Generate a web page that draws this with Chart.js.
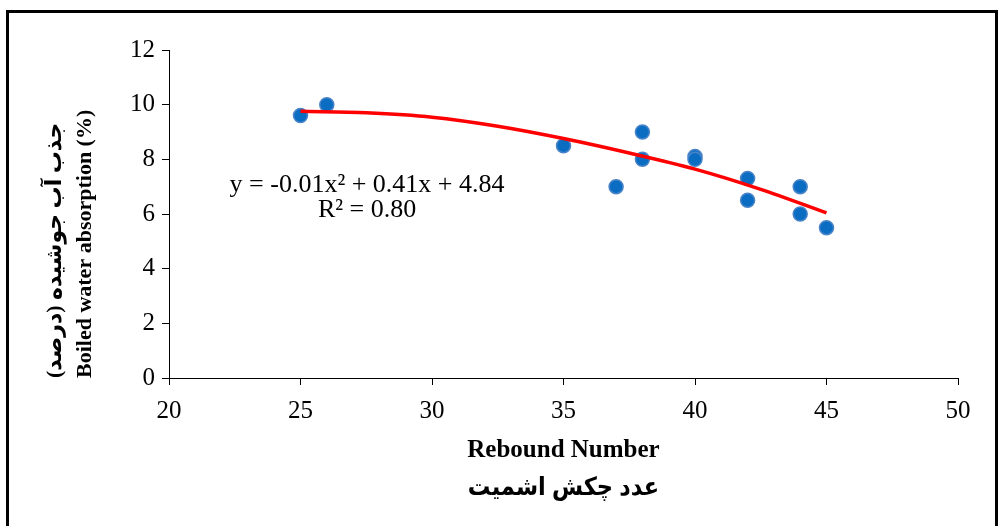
<!DOCTYPE html>
<html>
<head>
<meta charset="utf-8">
<script src="https://cdn.jsdelivr.net/npm/chart.js@4.4.1/dist/chart.umd.min.js"></script>
<style>
  body { margin: 0; background: #fff; }
  #wrap { width: 1000px; height: 526px; }
</style>
</head>
<body>
<div id="wrap"><canvas id="myChart" width="1000" height="526"></canvas></div>
<script>
// Measured points (rebound number vs boiled water absorption %)
const reboundNumber = [25, 26, 35, 37, 38, 38, 40, 40, 42, 42, 44, 44, 45];
const absorption = [9.6, 10.0, 8.5, 7.0, 9.0, 8.0, 8.1, 8.0, 7.3, 6.5, 7.0, 6.0, 5.5];

// Polynomial trendline
const trendX = [25, 27.5, 30, 32.5, 35, 37.5, 40, 42.5, 45];
const trendY = [9.76, 9.7, 9.54, 9.21, 8.76, 8.23, 7.64, 6.9, 6.04];

// Axis ticks
const xTicks = [20, 25, 30, 35, 40, 45, 50];
const yTicks = [0, 2, 4, 6, 8, 10, 12];

// Equation label and its anchor (data coords)
const equationLines = ["y = -0.01x² + 0.41x + 4.84", "R² = 0.80"];
const equationAt = [[27.53, 7.06], [27.53, 6.15]];

const xTitle = ["Rebound Number", "عدد چکش اشمیت"];
const yTitle = ["جذب آب جوشیده (درصد)", "Boiled water absorption (%)"];

const serif = "'Liberation Serif', 'Times New Roman', 'DejaVu Sans', serif";
const serifNarrow = "'Liberation Serif', 'DejaVu Sans Condensed', 'DejaVu Sans', serif";

// frame round the whole chart
const framePlugin = {
  id: "frame",
  beforeDraw(chart) {
    const ctx = chart.ctx;
    ctx.save();
    ctx.fillStyle = "#fff";
    ctx.fillRect(0, 0, chart.width, chart.height);
    ctx.strokeStyle = "#000";
    ctx.lineWidth = 3;
    ctx.strokeRect(7.5, 11.5, 989, 560);
    ctx.restore();
  }
};

// trendline equation text
const equationPlugin = {
  id: "equation",
  afterDatasetsDraw(chart) {
    const ctx = chart.ctx;
    const xs = chart.scales.x;
    const ys = chart.scales.y;
    ctx.save();
    ctx.font = "26px " + serif;
    ctx.fillStyle = "#000";
    ctx.textAlign = "center";
    ctx.textBaseline = "middle";
    equationLines.forEach((line, i) => {
      ctx.fillText(line, xs.getPixelForValue(equationAt[i][0]), ys.getPixelForValue(equationAt[i][1]));
    });
    ctx.restore();
  }
};

const ctx = document.getElementById("myChart").getContext("2d");
const myChart = new Chart(ctx, {
  type: "scatter",
  data: {
    datasets: [
      {
        type: "line",
        label: "Trend",
        data: trendX.map((x, i) => ({ x: x, y: trendY[i] })),
        borderColor: "#FF0000",
        borderWidth: 3.5,
        pointRadius: 0,
        cubicInterpolationMode: "monotone",
        fill: false,
        order: 0
      },
      {
        label: "Samples",
        data: reboundNumber.map((x, i) => ({ x: x, y: absorption[i] })),
        backgroundColor: "#0A6DC2",
        borderColor: "#4A84C8",
        borderWidth: 1.5,
        pointRadius: 7,
        order: 1
      }
    ]
  },
  options: {
    responsive: false,
    animation: false,
    layout: { padding: { top: 50, right: 42, left: 0, bottom: 0 } },
    plugins: {
      legend: { display: false },
      tooltip: { enabled: false }
    },
    scales: {
      x: {
        type: "linear",
        min: 20,
        max: 50,
        afterBuildTicks: (scale) => { scale.ticks = xTicks.map(v => ({ value: v })); },
        afterFit: (scale) => { scale.height = 148; },
        grid: { drawOnChartArea: false, tickLength: 7, color: "#000" },
        border: { color: "#000", width: 1 },
        ticks: { color: "#000", padding: 11, font: { family: serif, size: 25 } },
        title: {
          display: true,
          text: xTitle,
          color: "#000",
          padding: { top: 0, bottom: 19 },
          font: { family: serifNarrow, size: 25, weight: "bold", lineHeight: 1.5 }
        }
      },
      y: {
        type: "linear",
        min: 0,
        max: 12,
        afterBuildTicks: (scale) => { scale.ticks = yTicks.map(v => ({ value: v })); },
        afterFit: (scale) => { scale.width = 169; },
        grid: { drawOnChartArea: false, tickLength: 7, color: "#000" },
        border: { color: "#000", width: 1 },
        ticks: { color: "#000", padding: 7, font: { family: serif, size: 25 } },
        title: {
          display: true,
          text: yTitle,
          color: "#000",
          align: "start",
          padding: { top: 40, bottom: 0 },
          font: { family: serif, size: 22, weight: "bold", lineHeight: 1.36 }
        }
      }
    }
  },
  plugins: [framePlugin, equationPlugin]
});
</script>
</body>
</html>
